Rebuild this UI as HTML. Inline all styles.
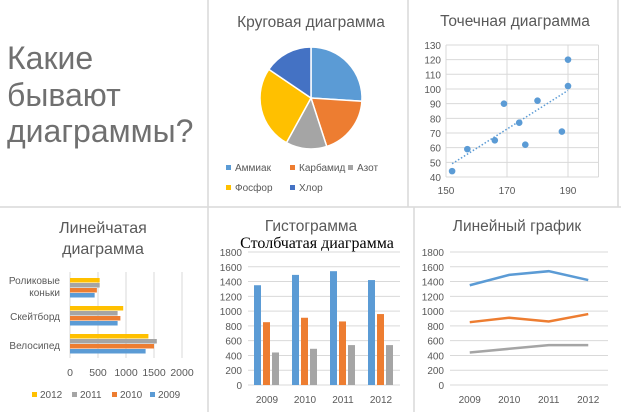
<!DOCTYPE html>
<html><head><meta charset="utf-8"><style>
body{margin:0;background:#fff;}
svg{display:block;font-family:"Liberation Sans","DejaVu Sans",sans-serif;}
</style></head><body>
<svg id="s" width="621" height="412" xmlns="http://www.w3.org/2000/svg">
<g stroke="#d9d9d9" stroke-width="1.5">
<line x1="208" y1="0" x2="208" y2="207"/><line x1="408" y1="0" x2="408" y2="207"/><line x1="618" y1="0" x2="618" y2="207"/>
<line x1="0" y1="207" x2="621" y2="207"/>
<line x1="208" y1="207" x2="208" y2="412"/><line x1="414" y1="207" x2="414" y2="412"/>
</g>
<g fill="#707070" font-size="32">
<text x="7" y="69">Какие</text><text x="7" y="106">бывают</text><text x="7" y="142">диаграммы?</text>
</g>
<text x="311" y="27" font-size="15.5" fill="#595959" text-anchor="middle">Круговая диаграмма</text>
<g id="pie"></g>
<g id="pieLegend" font-size="10" fill="#595959"></g>
<text x="515" y="26" font-size="15.5" fill="#595959" text-anchor="middle">Точечная диаграмма</text>
<g id="scatter"></g>
<text font-size="16" fill="#595959" text-anchor="middle"><tspan x="103" y="233">Линейчатая</tspan><tspan x="103" y="254">диаграмма</tspan></text>
<g id="hbar"></g>
<text x="311" y="231" font-size="15.5" fill="#595959" text-anchor="middle">Гистограмма</text>
<text x="317" y="248" font-size="16" fill="#000" text-anchor="middle" font-family="Liberation Serif, serif">Столбчатая диаграмма</text>
<g id="vbar"></g>
<text x="517" y="231" font-size="15.5" fill="#595959" text-anchor="middle">Линейный график</text>
<g id="line"></g>
</svg>
<script>
const NS="http://www.w3.org/2000/svg";
const pieLabels=["Аммиак","Карбамид","Азот","Фосфор","Хлор"];
const pieValues=[26,19,13,26.5,15.5];
const pieColors=["#5b9bd5","#ed7d31","#a5a5a5","#ffc000","#4472c4"];
const scatterX=[152,157,166,169,174,176,180,188,190,190];
const scatterY=[44,59,65,90,77,62,92,71,120,102];
const scatterXTicks=[150,170,190];
const scatterYTicks=[40,50,60,70,80,90,100,110,120,130];
const trendX=[152,190];
const trendY=[49,99];
const hbarCats=["Велосипед","Скейтборд","Роликовые коньки"];
const hbarYears=["2012","2011","2010","2009"];
const hbar2012=[1400,950,530];
const hbar2011=[1550,850,530];
const hbar2010=[1500,900,480];
const hbar2009=[1350,850,440];
const hbarTicks=[0,500,1000,1500,2000];
const years=["2009","2010","2011","2012"];
const seriesA=[1350,1490,1540,1420];
const seriesB=[850,910,860,960];
const seriesC=[440,490,540,540];
const yTicks=[0,200,400,600,800,1000,1200,1400,1600,1800];
function el(tag,attrs,parent,txt){const e=document.createElementNS(NS,tag);for(const k in attrs)e.setAttribute(k,attrs[k]);if(txt!==undefined)e.textContent=txt;parent.appendChild(e);return e;}
(function(){const g=document.getElementById('pie');const cx=311,cy=98,r=51;const tot=pieValues.reduce((a,b)=>a+b,0);let a0=0;
pieValues.forEach((v,i)=>{const a1=a0+v/tot*2*Math.PI;const p=(a)=>[cx+r*Math.sin(a),cy-r*Math.cos(a)];const s=p(a0),e=p(a1);
const path=el('path',{d:`M${cx},${cy}L${s[0]},${s[1]}A${r},${r} 0 ${a1-a0>Math.PI?1:0} 1 ${e[0]},${e[1]}Z`,fill:pieColors[i],stroke:'#fff','stroke-width':1.5},g);


a0=a1;});
const lg=document.getElementById('pieLegend');const pos=[[226,171],[290,171],[348,171],[226,191],[290,191]];
pieLabels.forEach((l,i)=>{const gg=el('g',{},lg);
el('rect',{x:pos[i][0],y:pos[i][1]-6,width:5,height:5,fill:pieColors[i]},gg);el('text',{x:pos[i][0]+9,y:pos[i][1]},gg,l);});})();
(function(){const g=document.getElementById('scatter');const X=v=>446+(v-150)*3.05,Y=v=>177-(v-40)*1.467;
scatterYTicks.forEach(t=>{el('line',{x1:X(150),x2:X(200),y1:Y(t),y2:Y(t),stroke:'#d9d9d9'},g);const tx=el('text',{x:441,y:Y(t)+4,'font-size':10,fill:'#595959','text-anchor':'end'},g,t);});
scatterXTicks.forEach(t=>{el('line',{x1:X(t),x2:X(t),y1:Y(40),y2:Y(130),stroke:'#d9d9d9'},g);const tx=el('text',{x:X(t),y:194,'font-size':10,fill:'#595959','text-anchor':'middle'},g,t);});
el('line',{x1:X(200),x2:X(200),y1:Y(40),y2:Y(130),stroke:'#d9d9d9'},g);
const tl=el('line',{x1:X(trendX[0]),y1:Y(trendY[0]),x2:X(trendX[1]),y2:Y(trendY[1]),stroke:'#5b9bd5','stroke-width':1.5,'stroke-dasharray':'1.5,2'},g);

scatterX.forEach((x,i)=>{const c=el('circle',{cx:X(x),cy:Y(scatterY[i]),r:3.3,fill:'#5b9bd5'},g);});})();
(function(){const g=document.getElementById('hbar');const X=v=>70+v*0.056;const groupTop=[334,306,278];const data=[hbar2012,hbar2011,hbar2010,hbar2009];const cols=["#ffc000","#a5a5a5","#ed7d31","#5b9bd5"];
hbarTicks.forEach(t=>{el('line',{x1:X(t),x2:X(t),y1:272,y2:358,stroke:'#d9d9d9'},g);const tx=el('text',{x:X(t),y:376,'font-size':10.5,fill:'#595959','text-anchor':'middle'},g,t);});
hbarCats.forEach((c,ci)=>{data.forEach((s,si)=>{const r=el('rect',{x:X(0),y:groupTop[ci]+si*5,width:X(s[ci])-X(0),height:4.5,fill:cols[si]},g);});});
const lab=[[["Велосипед",349]],[["Скейтборд",320]],[["Роликовые",284],["коньки",296]]];
lab.forEach(ls=>ls.forEach(l=>{const t=el('text',{x:60,y:l[1],'font-size':10,fill:'#595959','text-anchor':'end'},g,l[0]);}));
const lx=[32,72,112,150];hbarYears.forEach((y,i)=>{const gg=el('g',{},g);el('rect',{x:lx[i],y:392,width:5,height:5,fill:cols[i]},gg);el('text',{x:lx[i]+8,y:398,'font-size':10,fill:'#595959'},gg,y);});})();
function axes(g,x0,x1){const Y=v=>385-v*0.0739;yTicks.forEach(t=>{el('line',{x1:x0,x2:x1,y1:Y(t),y2:Y(t),stroke:'#d9d9d9'},g);const tx=el('text',{x:x0-6,y:Y(t)+4,'font-size':10,fill:'#595959','text-anchor':'end'},g,t);});
const w=(x1-x0)/years.length;years.forEach((y,i)=>{const tx=el('text',{x:x0+w*(i+0.5),y:403,'font-size':10,fill:'#595959','text-anchor':'middle'},g,y);});return [Y,w];}
(function(){const g=document.getElementById('vbar');const x0=248,x1=400;const [Y,w]=axes(g,x0,x1);const ser=[seriesA,seriesB,seriesC],cols=["#5b9bd5","#ed7d31","#a5a5a5"];
years.forEach((y,i)=>{ser.forEach((s,si)=>{const r=el('rect',{x:x0+w*i+6+si*9,y:Y(s[i]),width:7,height:Y(0)-Y(s[i]),fill:cols[si]},g);});});})();
(function(){const g=document.getElementById('line');const x0=450,x1=608;const [Y,w]=axes(g,x0,x1);const ser=[seriesA,seriesB,seriesC],cols=["#5b9bd5","#ed7d31","#a5a5a5"];
ser.forEach((s,si)=>{const p=el('polyline',{points:s.map((v,i)=>(x0+w*(i+0.5))+','+Y(v)).join(' '),fill:'none',stroke:cols[si],'stroke-width':2.5},g);});})();
</script>
</body></html>
